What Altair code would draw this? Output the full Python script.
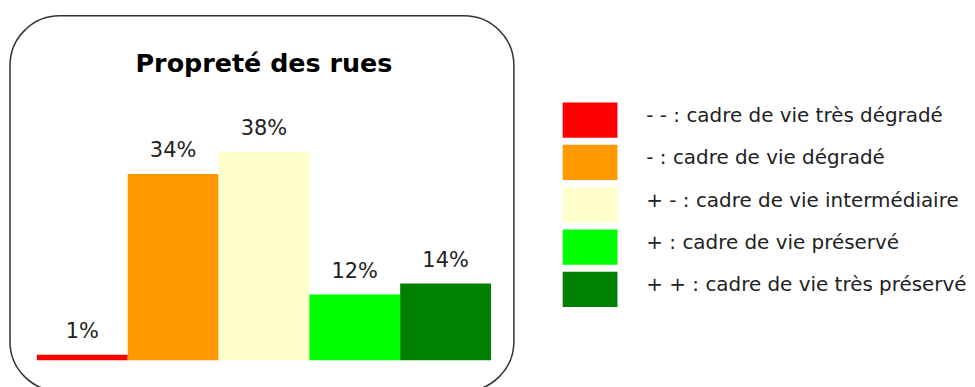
import altair as alt
import pandas as pd

# ---- data ----
categories = ["- -", "-", "+ -", "+", "+ +"]
values = [1, 34, 38, 12, 14]
legend_labels = [
    "- - : cadre de vie très dégradé",
    "- : cadre de vie dégradé",
    "+ - : cadre de vie intermédiaire",
    "+ : cadre de vie préservé",
    "+ + : cadre de vie très préservé",
]
colors = ["#FF0000", "#FF9900", "#FFFFCC", "#00FF00", "#008000"]
title_text = ["Propreté des rues"]

df = pd.DataFrame({
    "cat": categories,
    "value": values,
    "label": [f"{v}%" for v in values],
    "legend": legend_labels,
})
tdf = pd.DataFrame({"t": title_text})

FONT = "DejaVu Sans"

color = alt.Color("cat:N", sort=categories,
                  scale=alt.Scale(domain=categories, range=colors), legend=None)

x = alt.X("cat:N", sort=categories, axis=None,
          scale=alt.Scale(paddingInner=0, paddingOuter=0.274, align=0.54))
y = alt.Y("value:Q", axis=None,
          scale=alt.Scale(domain=[-5.64, 62.9], nice=False))

bars = alt.Chart(df).mark_bar().encode(x=x, y=y, color=color)
labels = alt.Chart(df).mark_text(
    dy=-17, baseline="alphabetic", fontSize=21, font=FONT, color="#222222"
).encode(x=x, y=y, text="label:N")
title = alt.Chart(tdf).mark_text(
    baseline="alphabetic", fontSize=25.5, fontWeight="bold", font=FONT, color="#000000"
).encode(x=alt.value(255), y=alt.value(56), text="t:N")

left = alt.layer(bars, labels, title).properties(
    width=506, height=377,
    view=alt.ViewBackground(stroke="#333333", strokeWidth=1.5, cornerRadius=50, fill="white"),
)

ly = alt.Y("cat:N", sort=categories, axis=None,
           scale=alt.Scale(paddingInner=0.165, paddingOuter=0.0825, range=[83.5, 296]))
swatch = alt.Chart(df).mark_rect().encode(
    y=ly, x=alt.value(0), x2=alt.value(55), color=color
)
ltext = alt.Chart(df).mark_text(
    align="left", baseline="middle", dy=-4, fontSize=20, font=FONT, color="#222222"
).encode(y=ly, x=alt.value(84), text="legend:N")

right = alt.layer(swatch, ltext).properties(
    width=390, height=377,
    view=alt.ViewBackground(stroke="transparent", strokeWidth=0),
)

chart = alt.hconcat(left, right, spacing=48).properties(
    padding={"left": 1, "top": 6, "right": 0, "bottom": 0},
    background="white",
)

chart.save("out.html", embed_options={"renderer": "svg", "actions": False})
